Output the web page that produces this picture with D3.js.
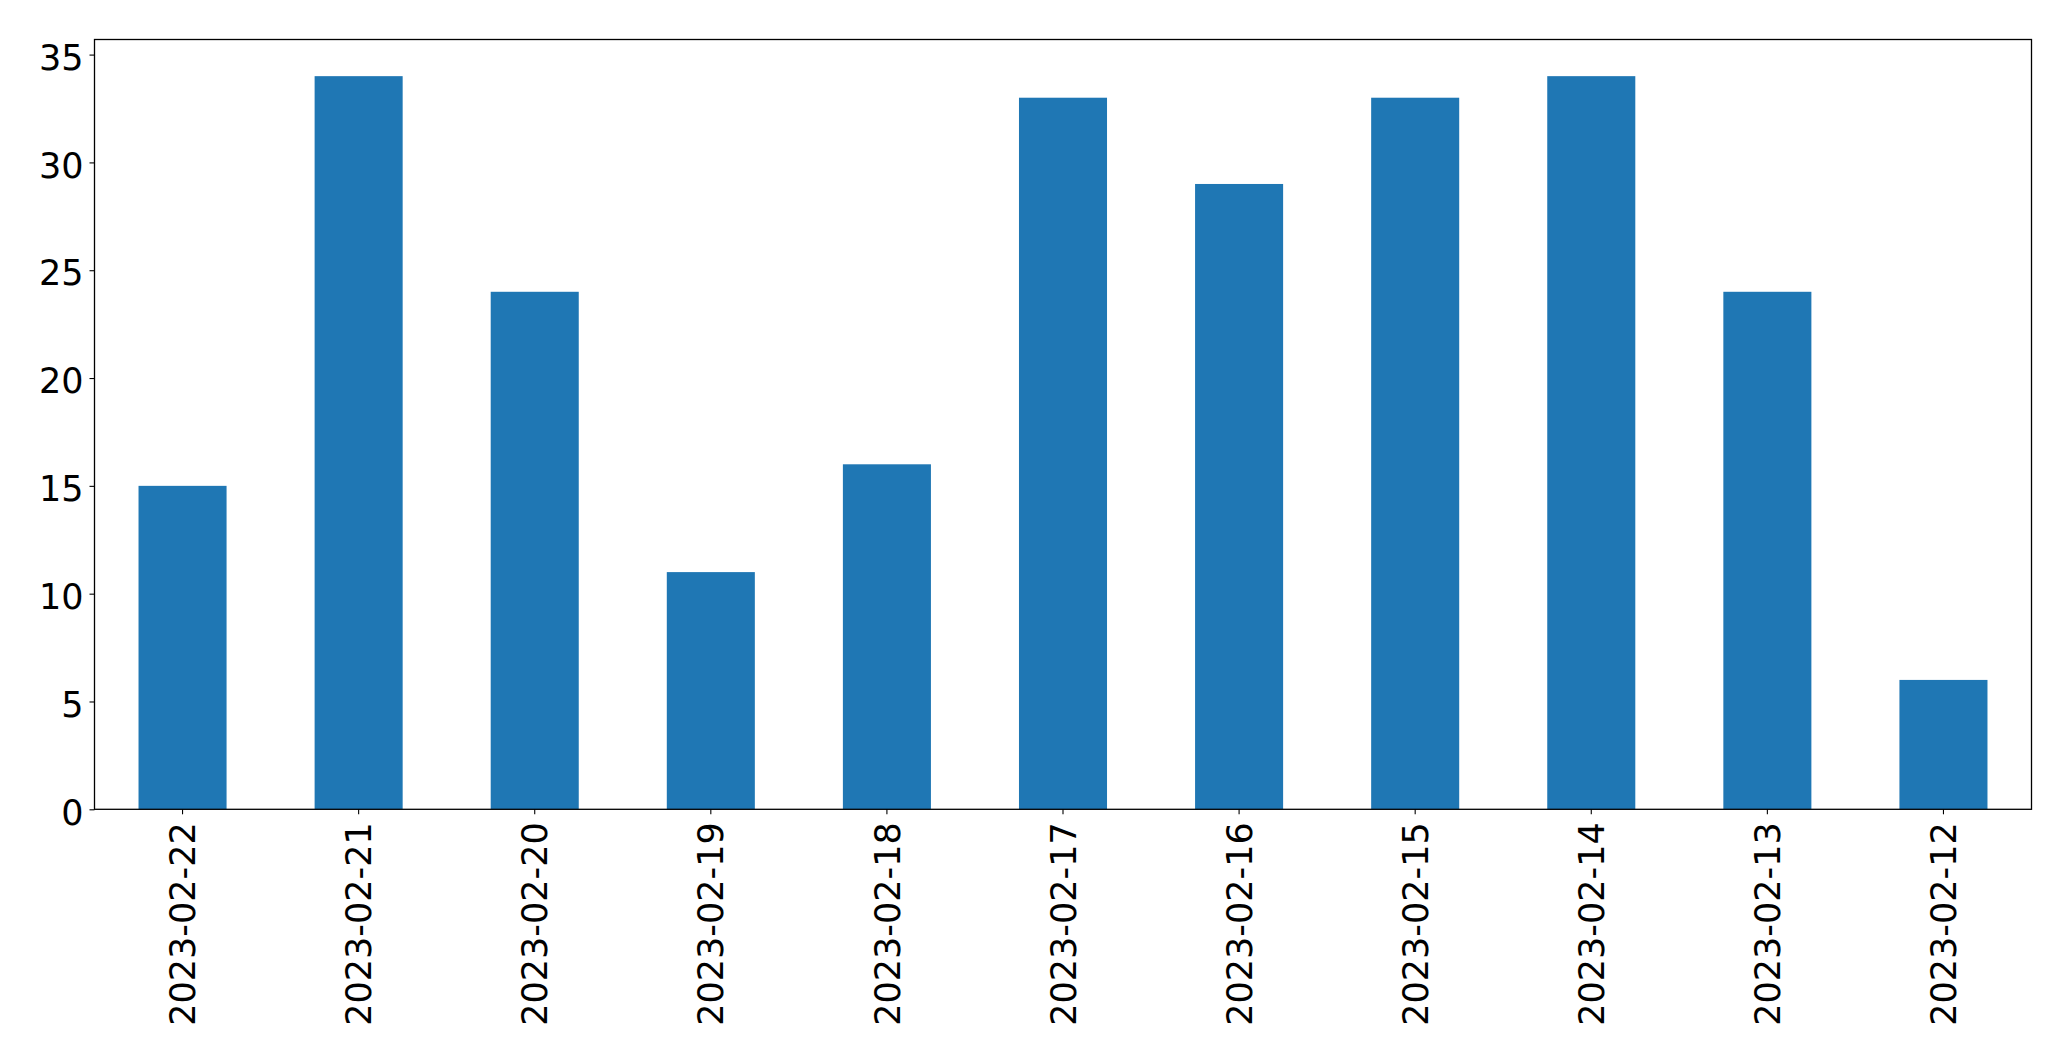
<!DOCTYPE html>
<html>
<head>
<meta charset="utf-8">
<script src="https://cdn.jsdelivr.net/npm/d3@7"></script>
<style>
  html, body { margin: 0; padding: 0; background: #ffffff; }
  svg { display: block; }
  text { font-family: "DejaVu Sans", sans-serif; fill: #000; }
</style>
</head>
<body>
<script>
const categories = ["2023-02-22","2023-02-21","2023-02-20","2023-02-19","2023-02-18","2023-02-17","2023-02-16","2023-02-15","2023-02-14","2023-02-13","2023-02-12"];
const values = [15, 34, 24, 11, 16, 33, 29, 33, 34, 24, 6];
const yTicks = [0, 5, 10, 15, 20, 25, 30, 35];

(function () {
const W = 2071, H = 1061;
const mLeft = 94.5, mRight = 2031.5, mTop = 39.5, mBottom = 809.3;
const fontSize = 35;

const svg = d3.select("body").append("svg").attr("width", W).attr("height", H);

const x = d3.scaleBand().domain(categories).range([mLeft, mRight]).paddingInner(0.5).paddingOuter(0.25);
const y = d3.scaleLinear().domain([0, d3.max(values) * 1.05]).range([mBottom, mTop]);

svg.append("g").selectAll("rect").data(values).join("rect")
  .attr("x", (d, i) => x(categories[i]))
  .attr("y", d => y(d))
  .attr("width", x.bandwidth())
  .attr("height", d => y(0) - y(d))
  .attr("fill", "#1f77b4");

// Y axis
const yAxis = svg.append("g").attr("transform", `translate(${mLeft},0)`)
  .call(d3.axisLeft(y).tickValues(yTicks).tickSize(5).tickPadding(6).tickFormat(d3.format("d")));
yAxis.select(".domain").remove();
yAxis.selectAll(".tick line").attr("stroke", "#000").attr("stroke-width", 1.1);
yAxis.selectAll(".tick text").attr("font-size", fontSize).attr("font-family", "DejaVu Sans").attr("dy", "0.42em").attr("fill", "#000");

// X axis
const xAxis = svg.append("g").attr("transform", `translate(0,${mBottom})`)
  .call(d3.axisBottom(x).tickSize(5).tickPadding(0));
xAxis.select(".domain").remove();
xAxis.selectAll(".tick line").attr("stroke", "#000").attr("stroke-width", 1.1);
xAxis.selectAll(".tick text")
  .attr("font-size", fontSize).attr("font-family", "DejaVu Sans").attr("fill", "#000")
  .attr("text-anchor", "end")
  .attr("transform", "translate(0,13) rotate(-90)")
  .attr("x", 0).attr("y", 0)
  .attr("dy", "0.36em");

// Frame
svg.append("rect")
  .attr("x", mLeft).attr("y", mTop)
  .attr("width", mRight - mLeft).attr("height", mBottom - mTop)
  .attr("fill", "none").attr("stroke", "#000").attr("stroke-width", 1.3);
})();
</script>
</body>
</html>
